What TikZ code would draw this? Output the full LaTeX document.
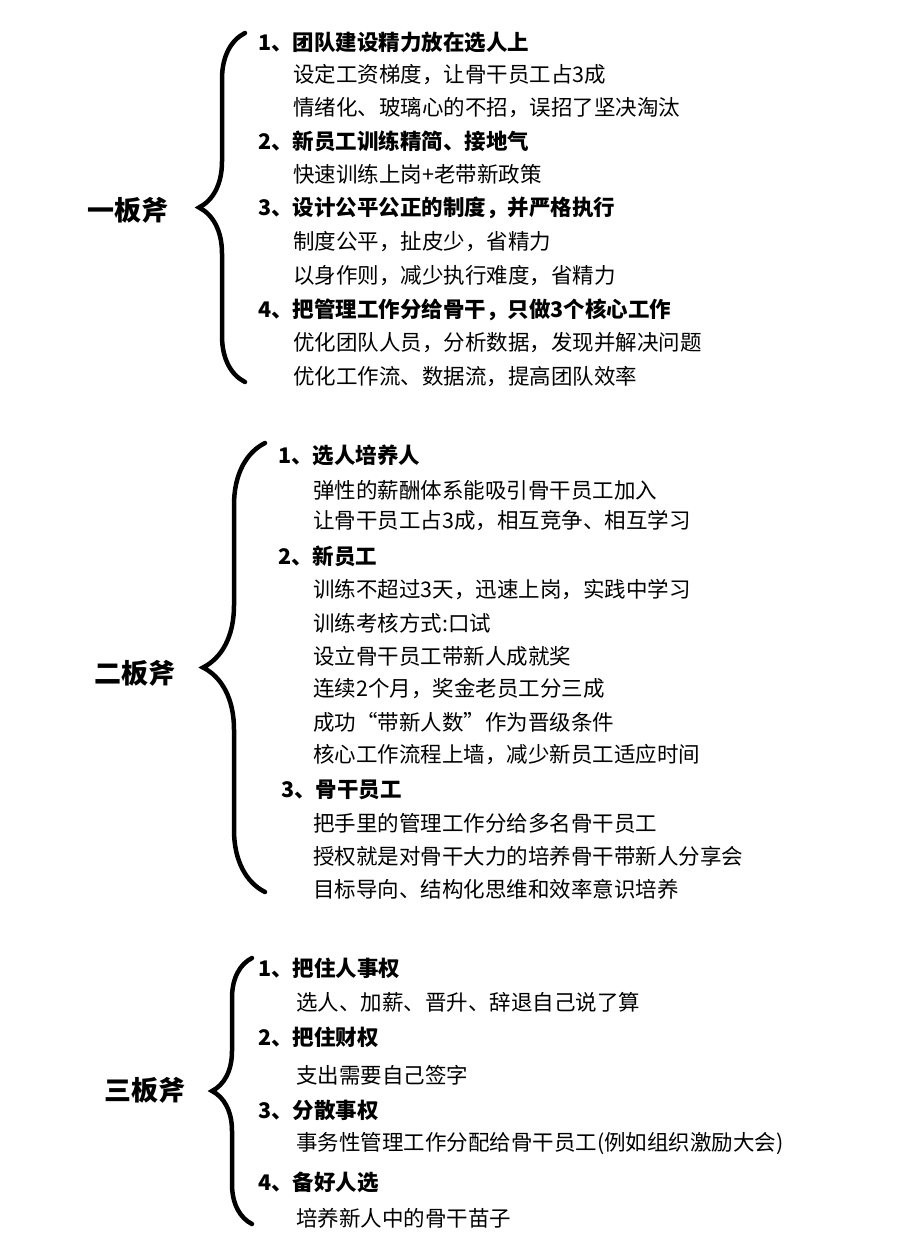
\documentclass[tikz,border=0pt]{standalone}
\usepackage{fontspec}
\setmainfont{Noto Sans CJK SC}
\usetikzlibrary{decorations.pathreplacing}
\tikzset{
 hd/.style={anchor=west,inner sep=0pt,font=\fontsize{21.5}{24}\selectfont\bfseries},
 tx/.style={anchor=west,inner sep=0pt,font=\fontsize{21.5}{24}\selectfont},
 lab/.style={inner sep=0pt,font=\fontsize{27}{30}\selectfont\bfseries},
 br/.style={decorate,decoration={brace,amplitude=#1,aspect=0.5},line width=4.5pt,line cap=round}
}
\begin{document}
\begin{tikzpicture}[x=1pt,y=-1pt]
\useasboundingbox (0,0) rectangle (907,1251);
% section 1
\coordinate (b1t) at (245,33); \coordinate (b1b) at (245,382);
\draw[br=46pt] (b1b) -- (b1t);
\node[lab] (l1) at (128,210) {一板斧};
\node[hd] (a1) at (258,42) {1、团队建设精力放在选人上};
\node[tx] (a11) at (293,75) {设定工资梯度，让骨干员工占3成};
\node[tx] (a12) at (293,108) {情绪化、玻璃心的不招，误招了坚决淘汰};
\node[hd] (a2) at (258,141) {2、新员工训练精简、接地气};
\node[tx] (a21) at (293,174) {快速训练上岗+老带新政策};
\node[hd] (a3) at (258,208) {3、设计公平公正的制度，并严格执行};
\node[tx] (a31) at (293,242) {制度公平，扯皮少，省精力};
\node[tx] (a32) at (293,276) {以身作则，减少执行难度，省精力};
\node[hd] (a4) at (258,310) {4、把管理工作分给骨干，只做3个核心工作};
\node[tx] (a41) at (293,343) {优化团队人员，分析数据，发现并解决问题};
\node[tx] (a42) at (293,377) {优化工作流、数据流，提高团队效率};
% section 2
\coordinate (b2t) at (265,443); \coordinate (b2b) at (265,892);
\draw[br=62pt] (b2b) -- (b2t);
\node[lab] (l2) at (135,673) {二板斧};
\node[hd] (c1) at (278,455) {1、选人培养人};
\node[tx] (c11) at (313,490) {弹性的薪酬体系能吸引骨干员工加入};
\node[tx] (c12) at (313,521) {让骨干员工占3成，相互竞争、相互学习};
\node[hd] (c2) at (278,556) {2、新员工};
\node[tx] (c21) at (313,590) {训练不超过3天，迅速上岗，实践中学习};
\node[tx] (c22) at (313,623) {训练考核方式:口试};
\node[tx] (c23) at (313,656) {设立骨干员工带新人成就奖};
\node[tx] (c24) at (313,689) {连续2个月，奖金老员工分三成};
\node[tx] (c25) at (313,722) {成功“带新人数”作为晋级条件};
\node[tx] (c26) at (313,755) {核心工作流程上墙，减少新员工适应时间};
\node[hd] (c3) at (281,790) {3、骨干员工};
\node[tx] (c31) at (313,823) {把手里的管理工作分给多名骨干员工};
\node[tx] (c32) at (313,856) {授权就是对骨干大力的培养骨干带新人分享会};
\node[tx] (c33) at (313,889) {目标导向、结构化思维和效率意识培养};
% section 3
\coordinate (b3t) at (252,958); \coordinate (b3b) at (252,1224);
\draw[br=40pt] (b3b) -- (b3t);
\node[lab] (l3) at (145,1090) {三板斧};
\node[hd] (d1) at (258,968) {1、把住人事权};
\node[tx] (d11) at (296,1002) {选人、加薪、晋升、辞退自己说了算};
\node[hd] (d2) at (258,1037) {2、把住财权};
\node[tx] (d21) at (296,1075) {支出需要自己签字};
\node[hd] (d3) at (258,1110) {3、分散事权};
\node[tx] (d31) at (296,1144) {事务性管理工作分配给骨干员工(例如组织激励大会)};
\node[hd] (d4) at (258,1182) {4、备好人选};
\node[tx] (d41) at (296,1218) {培养新人中的骨干苗子};
\end{tikzpicture}
\end{document}
